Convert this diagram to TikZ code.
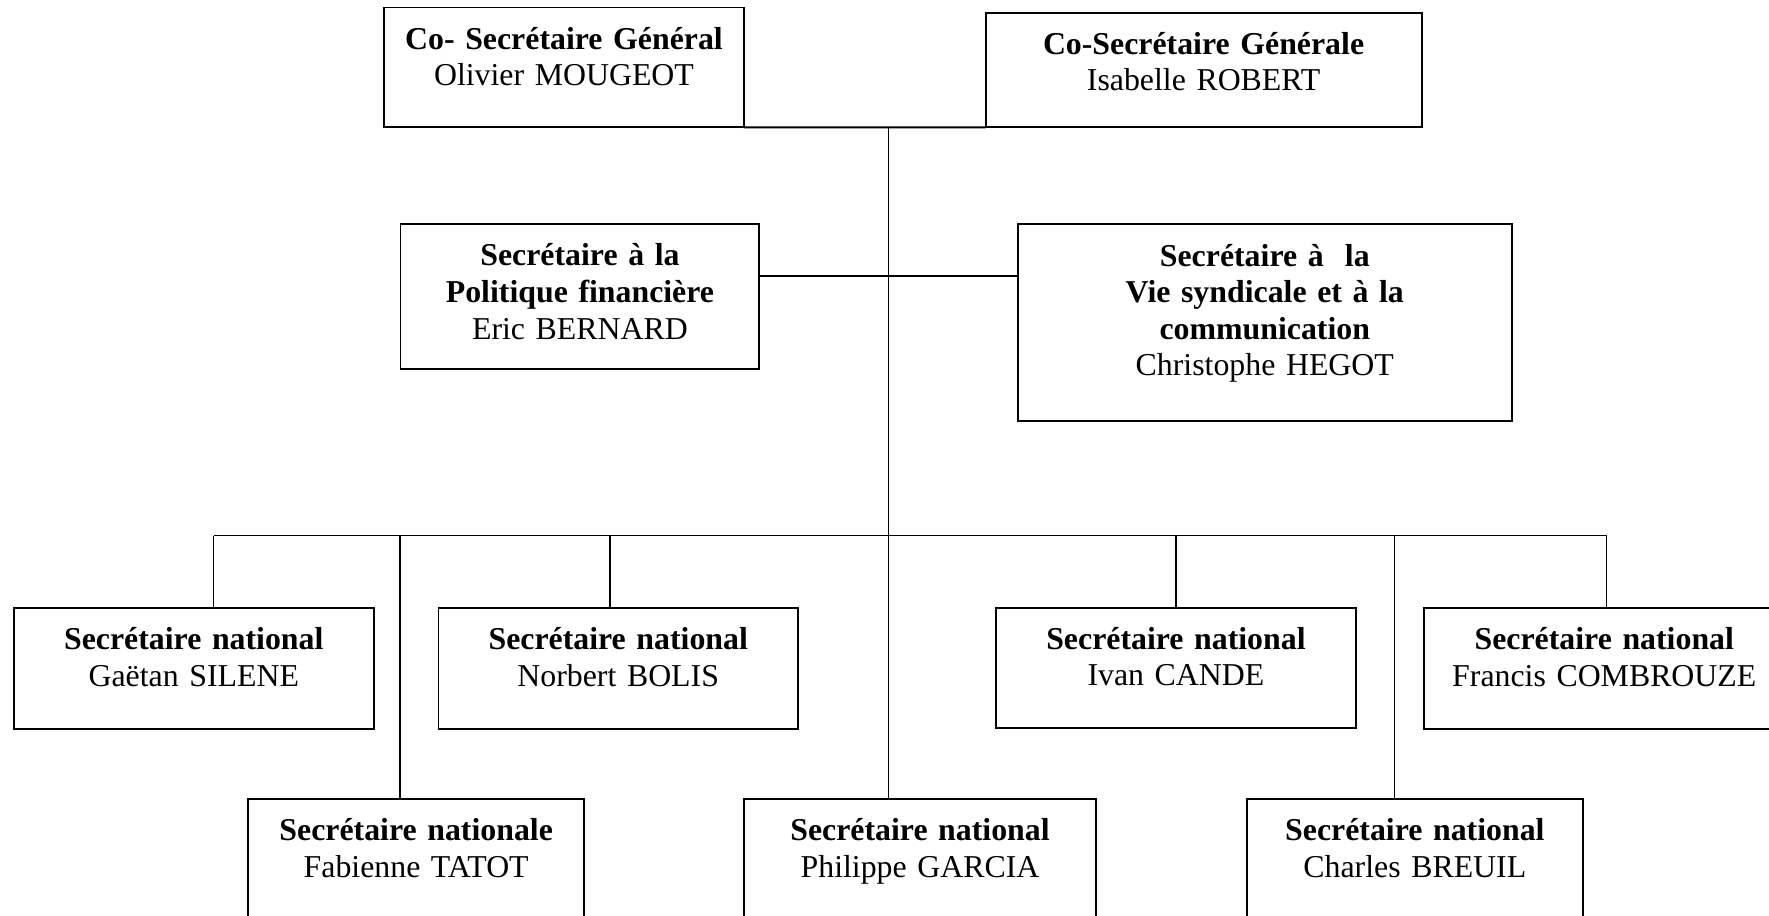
\documentclass[tikz,border=0pt]{standalone}
\usepackage{fontspec}
\setmainfont{Liberation Serif}
\usepackage{tikz}

\begin{document}
\begin{tikzpicture}[
    x=0.377pt, y=-0.377pt,
    post/.style={rectangle, draw=black, line width=0.75pt, inner sep=0pt, outer sep=0pt, anchor=north west, align=center, text height=15.7pt, font=\fontsize{12}{13.8}\selectfont},
    link/.style={draw=black, line width=0.5pt},
    trunk/.style={draw=black, line width=0.75pt}
]
\useasboundingbox (0,0) rectangle (1769,916);
\clip (0,0) rectangle (1769,916);

% Co-secretaries (top row)
\node[post, text width=135.7pt, text depth=29.5pt] (gen1) at (384,7.5) {\textbf{Co- Secrétaire Général}\\Olivier MOUGEOT};
\node[post, text width=164.4pt, text depth=27.55pt] (gen2) at (985.5,12.7) {\textbf{Co-Secrétaire Générale}\\Isabelle ROBERT};
\draw[trunk] (gen1.south east) -- (gen2.south west);

% Secretaries (middle row)
\node[post, text width=135.3pt, text depth=39pt] (fin) at (400.5,224.3) {\textbf{Secrétaire à la}\\\textbf{Politique financière}\\Eric BERNARD};
\node[post, text width=186.3pt, text depth=58.3pt] (vie) at (1017.7,224.4) {\textbf{Secrétaire à~ la}\\\textbf{Vie syndicale et à la}\\\textbf{communication}\\Christophe HEGOT};

% Main trunk and cross line
\coordinate (top) at (888.5,127.5);
\coordinate (mid) at (888.5,276);
\draw[trunk] (fin.east |- mid) -- (vie.west |- mid);

% National secretaries (upper row)
\node[post, text width=135.7pt, text depth=29.7pt] (silene) at (13.8,608.3) {\textbf{Secrétaire national}\\Gaëtan SILENE};
\node[post, text width=135.5pt, text depth=29.9pt] (bolis) at (438.5,608) {\textbf{Secrétaire national}\\Norbert BOLIS};
\node[post, text width=135.9pt, text depth=29.8pt] (cande) at (995.7,607.7) {\textbf{Secrétaire national}\\Ivan CANDE};
\node[post, text width=135.7pt, text depth=29.8pt] (combrouze) at (1424.3,608) {\textbf{Secrétaire national}\\Francis COMBROUZE};

% National secretaries (lower row)
\node[post, text width=126.8pt, text depth=31.4pt] (tatot) at (248,799.3) {\textbf{Secrétaire nationale}\\Fabienne TATOT};
\node[post, text width=132.7pt, text depth=31.4pt] (garcia) at (744,799.3) {\textbf{Secrétaire national}\\Philippe GARCIA};
\node[post, text width=126.7pt, text depth=31.4pt] (breuil) at (1246.8,799.3) {\textbf{Secrétaire national}\\Charles BREUIL};

% Bus and drops
\draw[link] (top) -- (top |- garcia.north);
\coordinate (busl) at (213.5,535.7);
\coordinate (busr) at (1606.8,535.7);
\draw[link] (busl) -- (busr);
\foreach \x/\n in {213.5/silene, 400.1/tatot, 610.1/bolis, 1176/cande, 1394.2/breuil, 1606.8/combrouze}{
    \coordinate (d\n) at (\x,535.7);
    \draw[link] (d\n) -- (d\n |- \n.north);
}

\end{tikzpicture}
\end{document}
